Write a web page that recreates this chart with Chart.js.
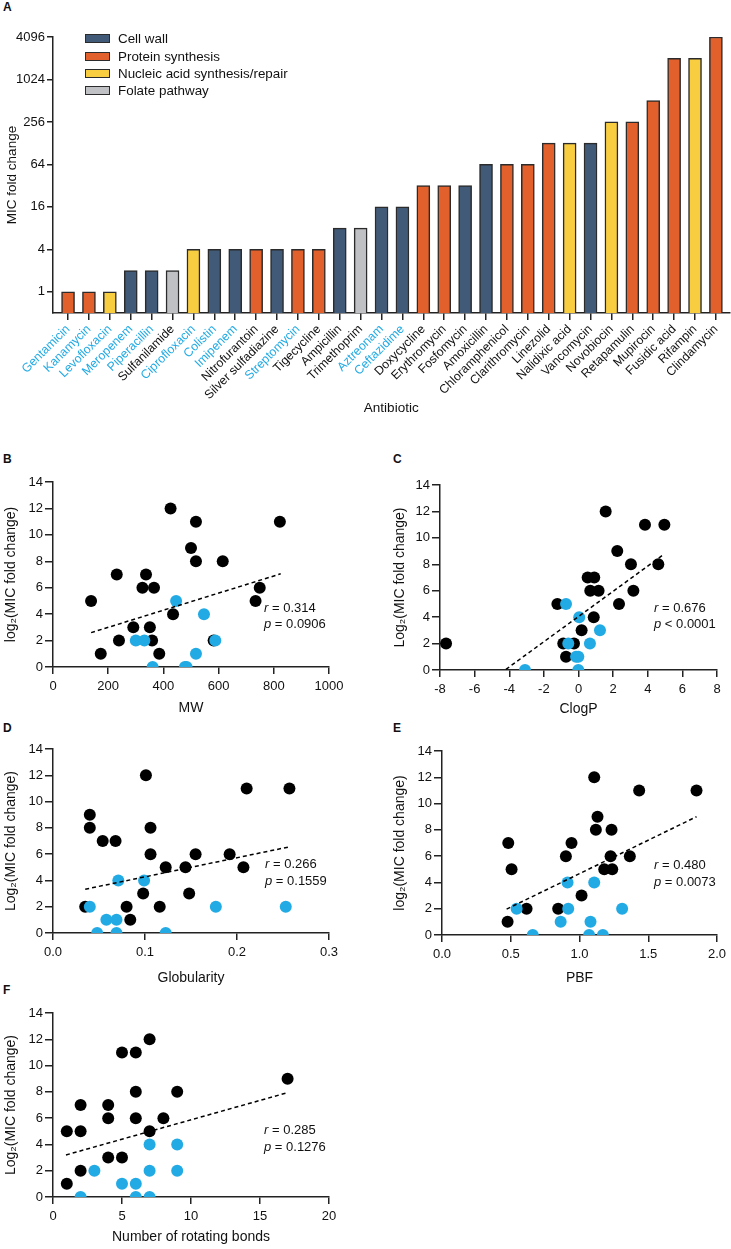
<!DOCTYPE html>
<html>
<head>
<meta charset="utf-8">
<script src="https://cdn.jsdelivr.net/npm/chart.js@4.4.0/dist/chart.umd.min.js"></script>
<style>
body{margin:0;background:#fff;width:731px;height:1249px;position:relative;overflow:hidden;font-family:"Liberation Sans",Arial,sans-serif;color:#111;}
canvas{position:absolute;}
.lbl{position:absolute;font-weight:bold;font-size:12px;line-height:14px;}
.stat{position:absolute;font-size:13px;white-space:nowrap;}
#legend{position:absolute;left:85px;top:30px;font-size:13.4px;}
.leg{height:17.4px;display:flex;align-items:center;}
.sw{box-sizing:border-box;width:25px;height:9px;border:1.3px solid #2b2b2b;margin-right:8px;}
</style>
</head>
<body>
<div class="lbl" style="left:3px;top:0px">A</div>
<div class="lbl" style="left:3px;top:452px">B</div>
<div class="lbl" style="left:393px;top:452px">C</div>
<div class="lbl" style="left:3px;top:721px">D</div>
<div class="lbl" style="left:393px;top:721px">E</div>
<div class="lbl" style="left:3px;top:983px">F</div>

<canvas id="chartA" width="731" height="420" style="left:0;top:0"></canvas>
<div id="legend"></div>

<canvas id="chartB" width="365" height="250" style="left:0;top:470px"></canvas>
<canvas id="chartC" width="366" height="251" style="left:365px;top:470px"></canvas>
<canvas id="chartD" width="365" height="255" style="left:0;top:735px"></canvas>
<canvas id="chartE" width="366" height="255" style="left:365px;top:735px"></canvas>
<canvas id="chartF" width="365" height="249" style="left:0;top:1000px"></canvas>

<div class="stat" style="left:264px;top:600px;line-height:15.6px"><i>r</i> = 0.314<br><i>p</i> = 0.0906</div>
<div class="stat" style="left:654px;top:600px;line-height:15.6px"><i>r</i> = 0.676<br><i>p</i> &lt; 0.0001</div>
<div class="stat" style="left:265px;top:855px;line-height:17px"><i>r</i> = 0.266<br><i>p</i> = 0.1559</div>
<div class="stat" style="left:654px;top:856px;line-height:17px"><i>r</i> = 0.480<br><i>p</i> = 0.0073</div>
<div class="stat" style="left:264px;top:1121px;line-height:17px"><i>r</i> = 0.285<br><i>p</i> = 0.1276</div>

<script>
// panel A data
const antibiotics = ['Gentamicin','Kanamycin','Levofloxacin','Meropenem','Piperacillin','Sulfanilamide',
  'Ciprofloxacin','Colistin','Imipenem','Nitrofurantoin','Silver sulfadiazine','Streptomycin','Tigecycline',
  'Ampicillin','Trimethoprim','Aztreonam','Ceftazidime','Doxycycline','Erythromycin','Fosfomycin','Amoxicillin',
  'Chloramphenicol','Clarithromycin','Linezolid','Nalidixic acid','Vancomycin','Novobiocin','Retapamulin',
  'Mupirocin','Fusidic acid','Rifampin','Clindamycin'];
const mechanism = ['P','P','N','W','W','F','N','W','W','P','W','P','P','W','F','W','W','P','P','W','W','P','P','P','N','W','N','P','P','P','N','P'];
const micFold = [1,1,1,2,2,2,4,4,4,4,4,4,4,8,8,16,16,32,32,32,64,64,64,128,128,128,256,256,512,2048,2048,4096];
const cyanNames = ['Gentamicin','Kanamycin','Levofloxacin','Meropenem','Piperacillin','Ciprofloxacin','Colistin',
  'Imipenem','Streptomycin','Aztreonam','Ceftazidime'];
const mechKeys = ['W','P','N','F'];
const mechNames = ['Cell wall','Protein synthesis','Nucleic acid synthesis/repair','Folate pathway'];
const mechColors = ['#405a78','#e2602b','#f9cd40','#c0c1c5'];
const aTicks = [1,4,16,64,256,1024,4096];

// panel B: MW
const mwBlack = [426,518,822,500,518,615,231,337,324,366,749,138,734,435,291,351,239,359,582,173,385];
const mwBlackY = [12,11,11,9,8,8,7,7,6,6,6,5,5,4,3,3,2,2,2,1,1];
const mwBlue = [446,547,300,331,588,518,361,478,484];
const mwBlueY = [5,4,2,2,2,1,0,0,0];
const mwFit = [138,825], mwFitY = [2.6,7.05];

// panel C: ClogP
const cpBlack = [1.57,3.84,4.96,2.24,3.03,4.61,0.53,0.91,0.68,1.16,3.17,-1.22,2.34,0.88,0.18,-7.65,-0.88,-0.26,-0.72];
const cpBlackY = [12,11,11,9,8,8,7,7,6,6,6,5,5,4,3,2,2,2,1];
const cpBlue = [-0.72,0.04,1.24,-0.59,0.66,-0.14,-0.01,-3.09,-0.01];
const cpBlueY = [5,4,3,2,2,1,1,0,0];
const cpFit = [-4.19,4.96], cpFitY = [0.05,8.78];

// panel D: Globularity
const glBlack = [0.101,0.2105,0.257,0.040,0.040,0.106,0.054,0.068,0.106,0.155,0.192,0.1225,0.144,0.207,0.098,0.148,0.035,0.080,0.116,0.084];
const glBlackY = [12,11,11,9,8,8,7,7,6,6,6,5,5,5,3,3,2,2,2,1];
const glBlue = [0.071,0.099,0.040,0.177,0.253,0.058,0.069,0.048,0.069,0.1225];
const glBlueY = [4,4,2,2,2,1,1,0,0,0];
const glFit = [0.035,0.258], glFitY = [3.33,6.57];

// panel E: PBF
const pbBlack = [1.107,1.434,1.851,1.131,1.119,1.233,0.482,0.942,0.901,1.226,1.366,0.506,1.18,1.238,1.015,0.615,0.845,0.477];
const pbBlackY = [12,11,11,9,8,8,7,7,6,6,6,5,5,5,3,2,2,1];
const pbBlue = [0.913,1.107,0.543,0.918,1.31,0.863,1.08,0.66,1.07,1.17];
const pbBlueY = [4,4,2,2,2,1,1,0,0,0];
const pbFit = [0.47,1.851], pbFitY = [1.97,9.0];

// panel F: rotating bonds
const rbBlack = [7,5,6,17,6,9,2,4,4,6,8,1,2,7,4,5,2,1];
const rbBlackY = [12,11,11,9,8,8,7,7,6,6,6,5,5,5,3,3,2,1];
const rbBlue = [7,9,3,7,9,5,6,2,6,7];
const rbBlueY = [4,4,2,2,2,1,1,0,0,0];
const rbFit = [0.94,17], rbFitY = [3.2,7.94];

const CYAN = '#22aae4';
const AXIS = '#222';
Chart.defaults.font.family = "'Liberation Sans', Arial, sans-serif";
Chart.defaults.color = '#111';

// legend
const leg = document.getElementById('legend');
mechNames.forEach(function (name, i) {
  const row = document.createElement('div');
  row.className = 'leg';
  row.innerHTML = '<div class="sw" style="background:' + mechColors[i] + '"></div><span>' + name + '</span>';
  leg.appendChild(row);
});

new Chart(document.getElementById('chartA'), {
  type: 'bar',
  data: {
    datasets: [{
      data: micFold.map((v, i) => ({x: i, y: v})),
      backgroundColor: mechanism.map(m => mechColors[mechKeys.indexOf(m)]),
      borderColor: '#2b2b2b',
      borderWidth: 1.5,
      barThickness: 13
    }]
  },
  options: {
    responsive: false, animation: false, devicePixelRatio: 1,
    layout: {padding: {top: 37, right: 1.5, left: 0, bottom: 0}},
    plugins: {legend: {display: false}, tooltip: {enabled: false}},
    scales: {
      x: {
        type: 'linear', min: -0.72, max: 31.65, offset: false,
        afterBuildTicks: s => { s.ticks = antibiotics.map((_, i) => ({value: i})); },
        ticks: {
          autoSkip: false, minRotation: 45, maxRotation: 45, padding: 2,
          font: {size: 12.3},
          callback: v => antibiotics[v],
          color: c => cyanNames.includes(antibiotics[c.tick.value]) ? CYAN : '#111'
        },
        grid: {display: true, offset: false, drawOnChartArea: false, tickLength: 7, color: AXIS, lineWidth: 1.5},
        border: {display: true, color: AXIS, width: 1.5},
        title: {display: true, text: 'Antibiotic', font: {size: 13.5}, color: '#111'},
        afterFit: s => { s.height = 107; s.paddingLeft = 0; s.paddingRight = 0; }
      },
      y: {
        type: 'logarithmic', min: 0.5, max: 4096,
        afterBuildTicks: s => { s.ticks = aTicks.map(v => ({value: v})); },
        ticks: {font: {size: 13}, padding: 2, callback: v => String(v), color: '#111'},
        grid: {display: true, drawOnChartArea: false, tickLength: 6, color: AXIS, lineWidth: 1.5},
        border: {display: true, color: AXIS, width: 1.5},
        title: {display: true, text: 'MIC fold change', font: {size: 13.5}, color: '#111'},
        afterFit: s => { s.width = 53; s.paddingTop = 0; s.paddingBottom = 0; }
      }
    }
  }
});

function pts(xs, ys) { return xs.map((x, i) => ({x: x, y: ys[i]})); }

function scatterPanel(id, p) {
  new Chart(document.getElementById(id), {
    type: 'scatter',
    data: {
      datasets: [
        {type: 'line', data: pts(p.fit, p.fitY), borderColor: '#000', borderWidth: 1.5, borderDash: [4, 3],
          pointRadius: 0, fill: false, order: 0},
        {data: pts(p.blue, p.blueY), pointRadius: 6, pointBackgroundColor: CYAN, pointBorderWidth: 0, order: 1},
        {data: pts(p.black, p.blackY), pointRadius: 6, pointBackgroundColor: '#000', pointBorderWidth: 0, order: 2}
      ]
    },
    options: {
      responsive: false, animation: false, devicePixelRatio: 1,
      layout: {padding: {top: p.top, right: p.right, left: p.left, bottom: 0}},
      plugins: {legend: {display: false}, tooltip: {enabled: false}},
      scales: {
        x: {
          type: 'linear', min: p.xMin, max: p.xMax,
          ticks: {stepSize: p.step, font: {size: 13}, padding: 5, color: '#111',
            callback: v => p.fmt ? Number(v).toFixed(1) : String(Math.round(v))},
          grid: {display: true, drawOnChartArea: false, tickLength: 7, color: AXIS, lineWidth: 1.5},
          border: {display: true, color: AXIS, width: 1.5},
          title: {display: true, text: p.xTitle, font: {size: 14}, color: '#111', padding: {top: 4, bottom: 3}},
          afterFit: s => { s.height = p.xh; s.paddingLeft = 0; s.paddingRight = 0; }
        },
        y: {
          type: 'linear', min: 0, max: 14,
          ticks: {stepSize: 2, font: {size: 13}, padding: 2, color: '#111'},
          grid: {display: true, drawOnChartArea: false, tickLength: 8, color: AXIS, lineWidth: 1.5},
          border: {display: true, color: AXIS, width: 1.5},
          title: {display: true, text: p.yTitle, font: {size: 14}, color: '#111', padding: {top: 3, bottom: 4}},
          afterFit: s => { s.width = p.yw; s.paddingTop = 0; s.paddingBottom = 0; }
        }
      }
    }
  });
}

scatterPanel('chartB', {black: mwBlack, blackY: mwBlackY, blue: mwBlue, blueY: mwBlueY, fit: mwFit, fitY: mwFitY,
  xMin: 0, xMax: 1000, step: 200, xTitle: 'MW', yTitle: 'log\u2082(MIC fold change)',
  top: 12, right: 36, left: 0, yw: 53, xh: 53});
scatterPanel('chartC', {black: cpBlack, blackY: cpBlackY, blue: cpBlue, blueY: cpBlueY, fit: cpFit, fitY: cpFitY,
  xMin: -8, xMax: 8, step: 2, xTitle: 'ClogP', yTitle: 'Log\u2082(MIC fold change)',
  top: 15, right: 14, left: 24, yw: 51, xh: 51});
scatterPanel('chartD', {black: glBlack, blackY: glBlackY, blue: glBlue, blueY: glBlueY, fit: glFit, fitY: glFitY,
  xMin: 0, xMax: 0.3, step: 0.1, fmt: true, xTitle: 'Globularity', yTitle: 'Log\u2082(MIC fold change)',
  top: 14, right: 36, left: 0, yw: 53, xh: 57});
scatterPanel('chartE', {black: pbBlack, blackY: pbBlackY, blue: pbBlue, blueY: pbBlueY, fit: pbFit, fitY: pbFitY,
  xMin: 0, xMax: 2, step: 0.5, fmt: true, xTitle: 'PBF', yTitle: 'log\u2082(MIC fold change)',
  top: 16, right: 14, left: 24, yw: 53, xh: 55});
scatterPanel('chartF', {black: rbBlack, blackY: rbBlackY, blue: rbBlue, blueY: rbBlueY, fit: rbFit, fitY: rbFitY,
  xMin: 0, xMax: 20, step: 5, xTitle: 'Number of rotating bonds', yTitle: 'Log\u2082(MIC fold change)',
  top: 13, right: 36, left: 0, yw: 53, xh: 52});
</script>
</body>
</html>
